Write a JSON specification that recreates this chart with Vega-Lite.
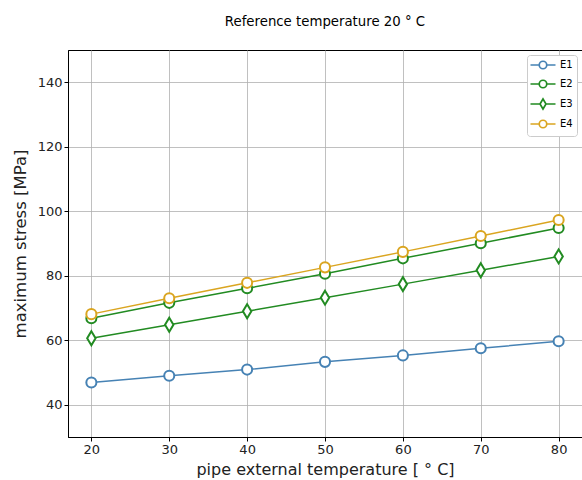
{
  "$schema": "https://vega.github.io/schema/vega-lite/v6.json",
  "width": 514,
  "height": 387,
  "autosize": {"type": "none"},
  "padding": {"left": 68, "top": 50, "right": 0, "bottom": 43},
  "background": "white",
  "title": {
    "text": "Reference temperature 20 ° C",
    "font": "DejaVu Sans",
    "fontSize": 13.3,
    "fontWeight": "normal",
    "color": "black",
    "anchor": "middle",
    "offset": 22
  },
  "config": {
    "view": {"stroke": "black", "strokeWidth": 1},
    "font": "DejaVu Sans",
    "axis": {
      "grid": true,
      "gridColor": "#b0b0b0",
      "gridWidth": 0.8,
      "domainColor": "black",
      "domainWidth": 1,
      "tickColor": "black",
      "tickSize": 4,
      "labelFont": "DejaVu Sans",
      "labelFontSize": 13,
      "labelColor": "#222222",
      "titleFont": "DejaVu Sans",
      "titleFontSize": 16.5,
      "titleFontWeight": "normal",
      "titleColor": "#222222"
    }
  },
  "data": {
    "values": [
      {"T": 20, "series": "E1", "stress": 46.9},
      {"T": 30, "series": "E1", "stress": 49.0},
      {"T": 40, "series": "E1", "stress": 50.9},
      {"T": 50, "series": "E1", "stress": 53.3},
      {"T": 60, "series": "E1", "stress": 55.3},
      {"T": 70, "series": "E1", "stress": 57.5},
      {"T": 80, "series": "E1", "stress": 59.7},
      {"T": 20, "series": "E2", "stress": 66.8},
      {"T": 30, "series": "E2", "stress": 71.6},
      {"T": 40, "series": "E2", "stress": 76.1},
      {"T": 50, "series": "E2", "stress": 80.6},
      {"T": 60, "series": "E2", "stress": 85.4},
      {"T": 70, "series": "E2", "stress": 90.1},
      {"T": 80, "series": "E2", "stress": 94.8},
      {"T": 20, "series": "E3", "stress": 60.6},
      {"T": 30, "series": "E3", "stress": 64.8},
      {"T": 40, "series": "E3", "stress": 69.0},
      {"T": 50, "series": "E3", "stress": 73.2},
      {"T": 60, "series": "E3", "stress": 77.4},
      {"T": 70, "series": "E3", "stress": 81.7},
      {"T": 80, "series": "E3", "stress": 86.0},
      {"T": 20, "series": "E4", "stress": 68.1},
      {"T": 30, "series": "E4", "stress": 73.0},
      {"T": 40, "series": "E4", "stress": 77.8},
      {"T": 50, "series": "E4", "stress": 82.6},
      {"T": 60, "series": "E4", "stress": 87.4},
      {"T": 70, "series": "E4", "stress": 92.3},
      {"T": 80, "series": "E4", "stress": 97.3}
    ]
  },
  "encoding": {
    "x": {
      "field": "T",
      "type": "quantitative",
      "scale": {"domain": [17, 83], "nice": false, "zero": false},
      "axis": {"values": [20, 30, 40, 50, 60, 70, 80], "title": "pipe external temperature  [ ° C]", "titlePadding": 5, "titleFontSize": 16}
    },
    "y": {
      "field": "stress",
      "type": "quantitative",
      "scale": {"domain": [30, 150], "nice": false, "zero": false},
      "axis": {"values": [40, 60, 80, 100, 120, 140], "title": "maximum stress [MPa]", "titlePadding": 9}
    }
  },
  "layer": [
    {
      "mark": {"type": "line", "strokeWidth": 1.5},
      "encoding": {
        "color": {
          "field": "series",
          "type": "nominal",
          "scale": {"domain": ["E1", "E2", "E3", "E4"], "range": ["#4682b4", "#228b22", "#228b22", "#daa520"]},
          "legend": {
            "title": null,
            "orient": "top-right",
            "offset": 5,
            "fillColor": "white",
            "strokeColor": "#cccccc",
            "cornerRadius": 3,
            "padding": 4,
            "labelFont": "DejaVu Sans",
            "labelFontSize": 10,
            "labelColor": "black",
            "labelOffset": 11,
            "symbolOffset": 6,
            "rowPadding": 3,
            "symbolSize": 100,
            "symbolStrokeWidth": 1.7,
            "symbolFillColor": "white",
            "encode": {
              "symbols": {
                "update": {
                  "shape": {"signal": "datum.value === 'E3' ? 'M0,-1L0.6,0L0,1L-0.6,0Z M-2.5,0L-0.6,0 M0.6,0L2.5,0' : 'M-0.75,0A0.75,0.75 0 1,0 0.75,0A0.75,0.75 0 1,0 -0.75,0Z M-2.5,0L-0.75,0 M0.75,0L2.5,0'"},
                  "fill": {"value": "white"}
                }
              }
            }
          }
        },
        "detail": {"field": "series"}
      }
    },
    {
      "transform": [{"filter": "datum.series !== 'E3'"}],
      "mark": {"type": "point", "filled": true, "fill": "white", "strokeWidth": 2, "size": 196, "opacity": 1, "shape": "M-0.72,0A0.72,0.72 0 1,0 0.72,0A0.72,0.72 0 1,0 -0.72,0Z"},
      "encoding": {
        "stroke": {
          "field": "series",
          "type": "nominal",
          "scale": {"domain": ["E1", "E2", "E3", "E4"], "range": ["#4682b4", "#228b22", "#228b22", "#daa520"]},
          "legend": null
        }
      }
    },
    {
      "transform": [{"filter": "datum.series === 'E3'"}],
      "mark": {"type": "point", "filled": true, "fill": "white", "strokeWidth": 2, "size": 196, "opacity": 1, "shape": "M0,-1L0.6,0L0,1L-0.6,0Z"},
      "encoding": {
        "stroke": {
          "field": "series",
          "type": "nominal",
          "scale": {"domain": ["E1", "E2", "E3", "E4"], "range": ["#4682b4", "#228b22", "#228b22", "#daa520"]},
          "legend": null
        }
      }
    }
  ]
}
